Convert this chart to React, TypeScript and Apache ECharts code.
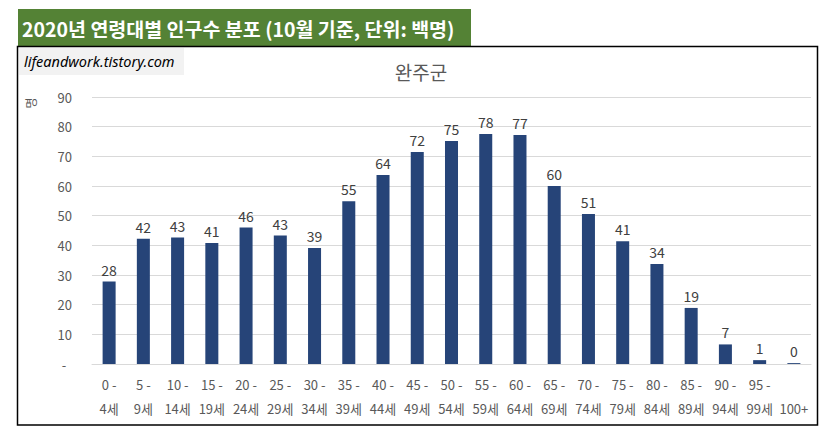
import React, { useEffect, useRef } from "react";
import * as echarts from "echarts";

const categories = [
  "0 -\n4세", "5 -\n9세", "10 -\n14세", "15 -\n19세", "20 -\n24세", "25 -\n29세", "30 -\n34세",
  "35 -\n39세", "40 -\n44세", "45 -\n49세", "50 -\n54세", "55 -\n59세", "60 -\n64세", "65 -\n69세",
  "70 -\n74세", "75 -\n79세", "80 -\n84세", "85 -\n89세", "90 -\n94세", "95 -\n99세", "\n100+",
];
const populationHundreds = [
  27.8, 42.2, 42.6, 40.8, 46.0, 43.3, 39.1, 54.9, 63.7, 71.5, 75.2, 77.5, 77.2, 60.0,
  50.6, 41.4, 33.7, 18.9, 6.6, 1.3, 0.3,
];
const headerTitle = "2020년 연령대별 인구수 분포 (10월 기준, 단위: 백명)";
const chartTitle = "완주군";
const sourceText = "lifeandwork.tistory.com";
const yAxisTitle = "명";

const FONT = "'Noto Sans CJK KR', 'Noto Sans', sans-serif";

export default function App() {
  const ref = useRef<HTMLDivElement>(null);
  useEffect(() => {
    document.body.style.margin = "0";
    const chart = echarts.init(ref.current!, null, { renderer: "svg" });
    chart.setOption({
      animation: false,
      backgroundColor: "#ffffff",
      textStyle: { fontFamily: FONT },
      title: {
        text: chartTitle,
        left: 416,
        textAlign: "center",
        top: 57,
        textStyle: { color: "#595959", fontSize: 19, fontWeight: "normal", fontFamily: FONT },
      },
      grid: { left: 92, right: 16, top: 97, bottom: 76 },
      xAxis: {
        type: "category",
        data: categories,
        axisLine: { lineStyle: { color: "#d9d9d9" } },
        axisTick: { show: false },
        axisLabel: {
          interval: 0,
          color: "#595959",
          fontSize: 13,
          lineHeight: 24,
          margin: 8,
          fontFamily: FONT,
        },
      },
      yAxis: {
        type: "value",
        min: 0,
        max: 90,
        interval: 10,
        axisLine: { show: false },
        axisTick: { show: false },
        splitLine: { lineStyle: { color: "#d9d9d9" } },
        axisLabel: {
          color: "#595959",
          fontSize: 13,
          margin: 20,
          fontFamily: FONT,
          formatter: (v: number) => (v === 0 ? "-  " : String(v)),
        },
      },
      series: [
        {
          type: "bar",
          data: populationHundreds,
          barWidth: "38%",
          itemStyle: { color: "#264478" },
          label: {
            show: true,
            position: "top",
            distance: 5,
            color: "#404040",
            fontSize: 14,
            fontFamily: FONT,
            formatter: (p: any) => String(Math.round(p.value)),
          },
        },
      ],
      graphic: [
        {
          type: "rect",
          shape: { x: 18, y: 9, width: 453, height: 37 },
          style: { fill: "#548235" },
          z: 10,
        },
        {
          type: "text",
          x: 22,
          y: 28,
          style: {
            text: headerTitle,
            fill: "#ffffff",
            fontSize: 19.5,
            fontWeight: "bold",
            fontFamily: FONT,
            verticalAlign: "middle",
          },
          z: 11,
        },
        {
          type: "rect",
          shape: { x: 17.5, y: 46.5, width: 800, height: 378.5 },
          style: { fill: "none", stroke: "#000000", lineWidth: 1.5 },
          z: 10,
        },
        {
          type: "rect",
          shape: { x: 19, y: 48, width: 165, height: 27 },
          style: { fill: "#f2f2f2" },
          z: 9,
        },
        {
          type: "text",
          x: 24,
          y: 61,
          style: {
            text: sourceText,
            fill: "#000000",
            fontSize: 14.5,
            fontStyle: "italic",
            fontFamily: "'Noto Sans', sans-serif",
            verticalAlign: "middle",
          },
          z: 11,
        },
        {
          type: "text",
          x: 30,
          y: 103,
          rotation: Math.PI / 2,
          style: {
            text: yAxisTitle,
            fill: "#595959",
            fontSize: 12,
            fontFamily: FONT,
            align: "center",
            verticalAlign: "middle",
          },
          z: 11,
        },
      ],
    });
    return () => chart.dispose();
  }, []);
  return <div ref={ref} style={{ width: 827, height: 440 }} />;
}
